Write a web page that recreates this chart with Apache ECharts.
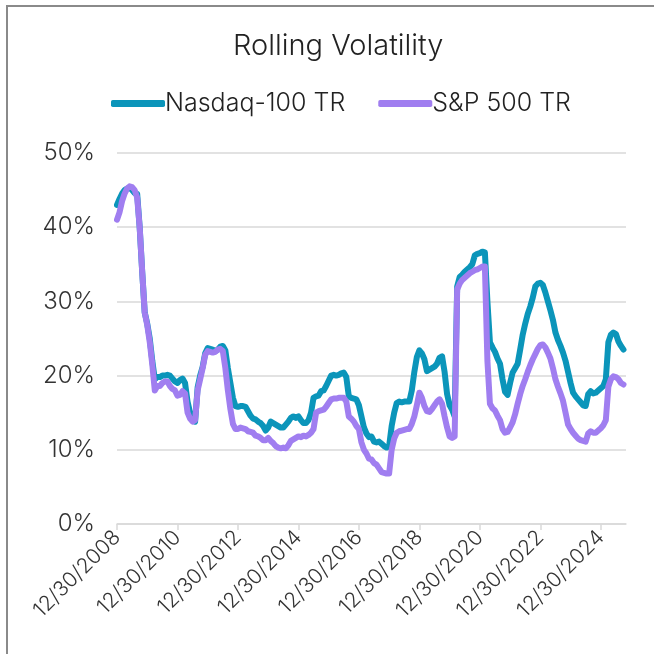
<!DOCTYPE html>
<html>
<head>
<meta charset="utf-8">
<script src="https://cdn.jsdelivr.net/npm/echarts@6/dist/echarts.min.js"></script>
<style>
  html, body { margin: 0; padding: 0; background: #fff; }
  #frame { position: absolute; left: 6px; top: 5px; width: 660px; height: 660px; border: 2px solid #8a8a8a; box-sizing: border-box; }
  #chart { position: absolute; left: 0; top: 0; width: 654px; height: 654px; }
</style>
</head>
<body>
<div id="frame"></div>
<div id="chart"></div>
<script>
// monthly points, Dec 2008 .. Oct 2025
const startYear = 2008, startMonth = 12, monthCount = 203;
const dates = [];
for (let i = 0; i < monthCount; i++) {
    const m = ((startMonth - 1 + i) % 12) + 1;
    const y = startYear + Math.floor((startMonth - 1 + i) / 12);
    dates.push(m + '/' + (m === 2 ? 28 : 30) + '/' + y);
}

const nasdaq = [
    43.0, 43.8, 44.5, 45.0, 45.2, 45.3, 45.0, 44.6, 44.5, 40.0, 34.0, 28.5,
    27.0, 25.0, 22.0, 19.5, 19.8, 19.8, 20.0, 20.0, 20.1, 20.0, 19.6, 19.2,
    19.0, 19.4, 19.6, 19.0, 16.5, 15.0, 14.0, 13.8, 18.4, 20.0, 21.2, 23.0,
    23.7, 23.6, 23.5, 23.3, 23.5, 23.9, 24.0, 23.4, 21.0, 19.0, 17.0, 15.9,
    15.8, 15.9, 15.9, 15.8, 15.2, 14.6, 14.2, 14.1, 13.8, 13.6, 13.2, 12.6,
    13.0, 13.8, 13.6, 13.4, 13.2, 13.0, 13.0, 13.4, 13.8, 14.3, 14.5, 14.3,
    14.5, 14.0, 13.6, 13.6, 14.0, 15.0, 17.0, 17.2, 17.3, 17.9, 18.0, 18.6,
    19.3, 20.0, 20.1, 20.0, 20.1, 20.3, 20.4, 19.8, 17.2, 17.0, 16.9, 16.8,
    16.0, 14.5, 13.0, 12.2, 11.7, 11.8, 11.1, 11.0, 11.1, 10.8, 10.5, 10.3,
    10.5, 13.2, 15.0, 16.3, 16.5, 16.4, 16.5, 16.5, 16.5, 18.0, 20.5, 22.5,
    23.4, 23.0, 22.2, 20.6, 20.8, 21.0, 21.2, 21.6, 22.4, 22.6, 20.5, 17.5,
    16.0, 15.4, 14.5, 32.0, 33.3, 33.6, 34.0, 34.3, 34.6, 35.0, 36.2, 36.4,
    36.5, 36.7, 36.6, 30.0, 24.5, 23.8, 23.2, 22.3, 21.6, 19.5, 17.8, 17.4,
    19.0, 20.4, 21.0, 21.6, 23.5, 25.5, 27.0, 28.3, 29.3, 30.5, 32.0, 32.4,
    32.5, 32.2, 31.2, 30.0, 28.8, 27.5, 25.8, 24.8, 24.0, 23.1, 22.0, 20.5,
    19.0, 17.7, 17.2, 16.8, 16.4, 16.0, 15.9, 17.5, 17.9, 17.6, 17.7, 18.0,
    18.3, 18.6, 19.5, 24.5, 25.5, 25.8, 25.6, 24.6, 24.0, 23.5
];

const sp500 = [
    41.0, 42.0, 43.5, 44.5, 45.2, 45.5, 45.4, 45.0, 44.0, 40.0, 34.0, 28.5,
    26.8, 24.5, 21.5, 18.0, 18.6, 18.6, 19.0, 19.2, 19.2, 18.6, 18.2, 18.0,
    17.3, 17.4, 17.9, 17.6, 15.0, 14.2, 13.8, 14.0, 18.0, 19.5, 21.0, 22.8,
    23.3, 23.2, 23.1, 23.2, 23.5, 23.6, 23.3, 21.0, 18.0, 15.5, 13.5, 12.8,
    12.8, 13.0, 12.9, 12.8, 12.5, 12.4, 12.3, 11.9, 11.8, 11.6, 11.3, 11.3,
    11.6, 11.2, 10.9, 10.5, 10.3, 10.2, 10.3, 10.2, 10.6, 11.2, 11.4, 11.6,
    11.8, 11.7, 11.9, 11.8, 12.0, 12.3, 12.8, 15.0, 15.2, 15.3, 15.4, 15.8,
    16.3, 16.8, 16.9, 16.9, 17.0, 17.0, 17.0, 16.5, 14.5, 14.2, 13.8, 13.2,
    12.8, 11.0, 10.0, 9.5, 8.8, 8.7, 8.2, 8.0, 7.5, 7.0, 6.9, 6.8,
    6.8, 10.0, 11.5, 12.3, 12.5, 12.6, 12.7, 12.8, 12.8, 13.5, 14.5, 16.0,
    17.7, 17.0, 15.9, 15.2, 15.1, 15.5, 16.0, 16.5, 16.8, 16.2, 14.5, 13.0,
    11.8, 11.6, 11.8, 31.6, 32.4, 32.9, 33.2, 33.5, 33.8, 34.0, 34.2, 34.3,
    34.5, 34.7, 34.7, 22.0, 16.2, 15.6, 15.3, 14.6, 14.0, 12.8, 12.3, 12.4,
    13.0, 13.7, 14.8, 16.2, 17.5, 18.6, 19.5, 20.5, 21.4, 22.2, 22.9, 23.6,
    24.1, 24.2, 23.8, 23.1, 22.3, 21.0, 19.5, 18.5, 17.6, 16.6, 15.0, 13.4,
    12.8, 12.3, 11.9, 11.5, 11.3, 11.2, 11.1, 12.2, 12.5, 12.3, 12.3, 12.6,
    12.9, 13.3, 14.0, 18.5, 19.5, 19.9, 19.8, 19.5, 19.0, 18.8
];

const yTicks = [0, 10, 20, 30, 40, 50];

const font = 'Inter, "Noto Sans", sans-serif';
const myChart = echarts.init(document.getElementById('chart'));
const option = {
    animation: false,
    textStyle: { fontFamily: font },
    title: {
        text: 'Rolling Volatility',
        left: 228,
        top: 27,
        textStyle: { fontFamily: font, fontSize: 29, fontWeight: 300, color: '#222' }
    },
    legend: {
        top: 86,
        left: 106,
        itemWidth: 54,
        itemHeight: 7,
        itemGap: 33,
        icon: 'roundRect',
        textStyle: { fontFamily: font, fontSize: 25, fontWeight: 300, color: '#222', padding: [0, 0, 0, -5] },
        data: ['Nasdaq-100 TR', 'S&P 500 TR']
    },
    grid: { left: 117, right: 28, top: 153, bottom: 130, containLabel: false },
    xAxis: {
        type: 'category',
        data: dates,
        boundaryGap: false,
        axisLine: { lineStyle: { color: '#d9d9d9', width: 1.5 } },
        axisTick: { interval: 23, length: 6, lineStyle: { color: '#d9d9d9', width: 1.5 } },
        axisLabel: {
            interval: 23, rotate: 45, margin: 10,
            fontFamily: font, fontSize: 21, fontWeight: 300, color: '#333'
        },
        splitLine: { show: false }
    },
    yAxis: {
        type: 'value',
        min: yTicks[0],
        max: yTicks[yTicks.length - 1],
        interval: 10,
        axisLine: { show: false },
        axisTick: { show: false },
        axisLabel: {
            formatter: '{value}%', margin: 22,
            fontFamily: font, fontSize: 24, fontWeight: 300, color: '#333'
        },
        splitLine: { lineStyle: { color: '#d9d9d9', width: 1.5 } }
    },
    series: [
        {
            name: 'Nasdaq-100 TR',
            type: 'line',
            data: nasdaq,
            showSymbol: false,
            symbol: 'none',
            color: '#0b95ba',
            lineStyle: { width: 6, cap: 'round', join: 'round' }
        },
        {
            name: 'S&P 500 TR',
            type: 'line',
            data: sp500,
            showSymbol: false,
            symbol: 'none',
            color: '#a07ef0',
            lineStyle: { width: 6, cap: 'round', join: 'round' }
        }
    ]
};
myChart.setOption(option);
</script>
</body>
</html>
